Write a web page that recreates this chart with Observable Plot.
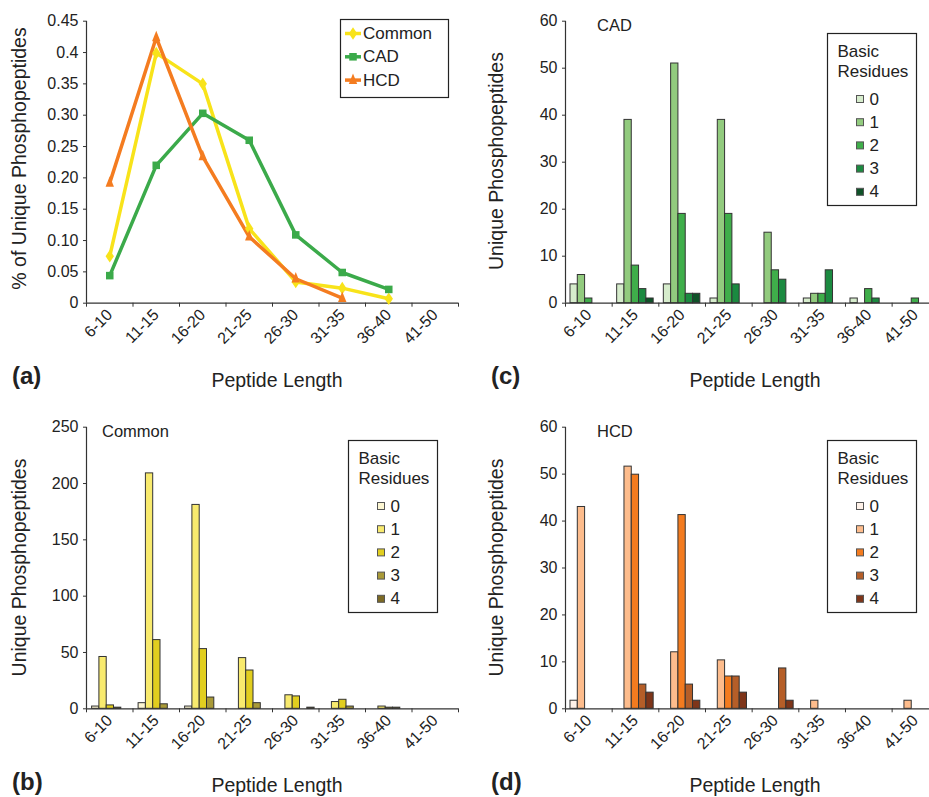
<!DOCTYPE html>
<html><head><meta charset="utf-8">
<script src="https://cdn.jsdelivr.net/npm/d3@7"></script>
<script src="https://cdn.jsdelivr.net/npm/@observablehq/plot@0.6"></script>
<style>
body{margin:0;background:#fff;overflow:hidden}
#fig{position:relative;width:929px;height:797px;overflow:hidden;background:#fff}
#fig svg{position:absolute}
</style></head><body><div id="fig"></div>
<script>
// ---------- data ----------
const cats = ["6-10","11-15","16-20","21-25","26-30","31-35","36-40","41-50"];
const residues = [0,1,2,3,4];
const seriesNames = ["Common","CAD","HCD"];

// (a) fraction of unique phosphopeptides per length bin
const commonPct = [0.075,0.399,0.350,0.119,0.034,0.024,0.007,null];
const cadPct    = [0.044,0.220,0.303,0.260,0.109,0.049,0.022,null];
const hcdPct    = [0.192,0.424,0.234,0.106,0.039,0.008,null,null];

const yTicksPct  = [0,0.05,0.1,0.15,0.2,0.25,0.3,0.35,0.4,0.45];
const yLabelsPct = ["0","0.05","0.10","0.15","0.20","0.25","0.30","0.35","0.4","0.45"];
const yTicksCommon = [0,50,100,150,200,250];
const yTicksCount  = [0,10,20,30,40,50,60];

// rows: length bins; columns: basic residues 0..4
const commonCounts = [
  [2,46,3,1,0],[5,209,61,4,0],[2,181,53,10,0],[0,45,34,5,0],
  [0,12,11,0,1],[0,6,8,2,0],[0,2,1,1,0],[0,0,0,0,0]];
const cadCounts = [
  [4,6,1,0,0],[4,39,8,3,1],[4,51,19,2,2],[1,39,19,4,0],
  [0,15,7,5,0],[1,2,2,7,0],[1,0,3,1,0],[0,0,1,0,0]];
const hcdCounts = [
  [1.72,43,0,0,0],[0,51.6,49.88,5.16,3.44],[0,12.04,41.28,5.16,1.72],[0,10.32,6.88,6.88,3.44],
  [0,0,0,8.6,1.72],[0,1.72,0,0,0],[0,0,0,0,0],[0,1.72,0,0,0]];

// ---------- style ----------
const seriesColors = ["#F8E31A","#3BAA4A","#F47C20"];
const commonShades = ["#FCF6D2","#F8EA6E","#E1CE1F","#A99A38","#7C6A24"];
const cadShades    = ["#D6ECCC","#92CB7E","#3FAE4A","#1B8A40","#0F5228"];
const hcdShades    = ["#FEF1E8","#FDBC8C","#F37B1F","#B55E28","#7E3519"];
const FONT = '"Liberation Sans", Arial, Helvetica, sans-serif';
const INK = "#222";

const fig = document.getElementById("fig");

// custom marker symbols
const diamondTall = {draw(ctx, size){ const s = Math.sqrt(size/Math.PI);
  ctx.moveTo(0,-1.5*s); ctx.lineTo(s,0); ctx.lineTo(0,1.5*s); ctx.lineTo(-s,0); ctx.closePath(); }};
const squareSym = {draw(ctx, size){ const s = Math.sqrt(size/Math.PI)*0.9;
  ctx.rect(-s,-s,2*s,2*s); }};
const triTall = {draw(ctx, size){ const s = Math.sqrt(size/Math.PI);
  ctx.moveTo(0,-1.6*s); ctx.lineTo(s,0.9*s); ctx.lineTo(-s,0.9*s); ctx.closePath(); }};
const seriesSymbols = [diamondTall, squareSym, triTall];

function axisMarks(bw, yDom, yTicks, yLabels) {
  const lab = new Map(yTicks.map((t,i)=>[t, yLabels ? yLabels[i] : String(t)]));
  return [
    Plot.axisY(yTicks, {tickSize:3, tickPadding:5, tickFormat:d=>lab.get(d), fontSize:16, label:null, stroke:"#333"}),
    Plot.axisX({tickSize:0, tickPadding:9, tickRotate:-45, fontSize:16, label:null}),
    Plot.axisX(cats, {tickSize:4, tickFormat:()=>"", dx:-bw/2, label:null, stroke:"#333"}),
    Plot.axisX([cats[cats.length-1]], {tickSize:4, tickFormat:()=>"", dx:bw/2, label:null, stroke:"#333"}),
    Plot.ruleY([0], {stroke:"#333", strokeWidth:1.2}),
    Plot.ruleX([cats[0]], {y1:yDom[0], y2:yDom[1], dx:-bw/2, stroke:"#333", strokeWidth:1.2})
  ];
}

function barMarks(counts, shades, bw, off, barW) {
  return residues.map(r => {
    const data = cats.map((c,i)=>({cat:c, v:counts[i][r]})).filter(d=>d.v>0);
    const il = off + r*barW;
    return Plot.barY(data, {x:"cat", y:"v", fill:shades[r], stroke:"#333", strokeWidth:1,
      insetLeft:il, insetRight:bw-il-barW});
  });
}

function makePlot(L, yDom, marksFn) {
  const bw = (L.w - L.ml - L.mr)/cats.length;
  const p = Plot.plot({
    width:L.w, height:L.h, marginLeft:L.ml, marginRight:L.mr, marginTop:L.mt, marginBottom:L.mb,
    style:{fontFamily:FONT, fontSize:"16px", color:INK, background:"transparent", overflow:"visible"},
    x:{type:"band", domain:cats, padding:0, round:false},
    y:{domain:yDom},
    marks: marksFn(bw)
  });
  p.style.left = L.x + "px"; p.style.top = L.y + "px";
  fig.appendChild(p);
}

// ---------- panel (a) ----------
const pctArrays = [commonPct, cadPct, hcdPct];
const lineData = [];
seriesNames.forEach((s,k) => pctArrays[k].forEach((v,i) => { if (v != null) lineData.push({series:s, k, cat:cats[i], v}); }));

makePlot({x:0,y:0,w:470,h:400,ml:86,mr:12,mt:20.7,mb:97.3}, [0,0.45], bw => [
  ...axisMarks(bw, [0,0.45], yTicksPct, yLabelsPct),
  ...seriesNames.map((s,k) => Plot.line(lineData.filter(d=>d.k===k), {x:"cat", y:"v", stroke:seriesColors[k], strokeWidth:3.5, strokeLinejoin:"miter"})),
  ...seriesNames.map((s,k) => Plot.dot(lineData.filter(d=>d.k===k), {x:"cat", y:"v", r:4.2, fill:seriesColors[k], stroke:"none", symbol:seriesSymbols[k]}))
]);

// ---------- panel (b) ----------
makePlot({x:0,y:400,w:470,h:397,ml:86,mr:12,mt:26.7,mb:88.7}, [0,250], bw => [
  ...barMarks(commonCounts, commonShades, bw, 5.6, 7.3),
  ...axisMarks(bw, [0,250], yTicksCommon)
]);

// ---------- panel (c) ----------
makePlot({x:470,y:0,w:480,h:400,ml:95,mr:11.7,mt:20.7,mb:97.3}, [0,60], bw => [
  ...barMarks(cadCounts, cadShades, bw, 5.0, 7.3),
  ...axisMarks(bw, [0,60], yTicksCount)
]);

// ---------- panel (d) ----------
makePlot({x:470,y:400,w:480,h:397,ml:95,mr:11.7,mt:26.7,mb:88.7}, [0,60], bw => [
  ...barMarks(hcdCounts, hcdShades, bw, 5.0, 7.3),
  ...axisMarks(bw, [0,60], yTicksCount)
]);

// ---------- overlay: titles, panel letters, legends ----------
const ov = d3.create("svg").attr("width",929).attr("height",797)
  .style("left","0px").style("top","0px").style("font-family",FONT).style("pointer-events","none");
function txt(x, y, s, size, opts={}) {
  const t = ov.append("text").attr("x",x).attr("y",y).attr("font-size",size).attr("fill",INK).text(s);
  if (opts.anchor) t.attr("text-anchor",opts.anchor);
  if (opts.bold) t.attr("font-weight","bold");
  if (opts.central) t.attr("dominant-baseline","central");
  if (opts.rotate) t.attr("transform",`rotate(-90,${x},${y})`);
  return t;
}
// panel letters and axis titles
const panels = [
  {letter:"(a)", lx:12,  ly:384, tx:277, ty:387, yt:"% of Unique Phosphopeptides", yx:26,  yy:158.5},
  {letter:"(b)", lx:12,  ly:790, tx:277, ty:792, yt:"Unique Phosphopeptides",      yx:26,  yy:567.5},
  {letter:"(c)", lx:491, ly:384, tx:755, ty:387, yt:"Unique Phosphopeptides",      yx:503, yy:161},
  {letter:"(d)", lx:491, ly:790, tx:755, ty:792, yt:"Unique Phosphopeptides",      yx:503, yy:567.5}
];
panels.forEach(p => {
  txt(p.lx, p.ly, p.letter, 24, {bold:true});
  txt(p.tx, p.ty, "Peptide Length", 19.5, {anchor:"middle"});
  txt(p.yx, p.yy, p.yt, 19.5, {anchor:"middle", rotate:true});
});
// in-panel labels
txt(102, 437, "Common", 16.5);
txt(597, 31, "CAD", 16.5);
txt(597, 437, "HCD", 16.5);

// legend (a)
ov.append("rect").attr("x",340.5).attr("y",19.5).attr("width",108).attr("height",78)
  .attr("fill","#fff").attr("stroke",INK).attr("stroke-width",1.2);
seriesNames.forEach((s,k) => {
  const cy = 33.5 + k*23.3;
  ov.append("line").attr("x1",345).attr("x2",361).attr("y1",cy).attr("y2",cy)
    .attr("stroke",seriesColors[k]).attr("stroke-width",3.5);
  ov.append("path").attr("d", d3.symbol(seriesSymbols[k], Math.PI*4.2*4.2)())
    .attr("transform",`translate(353,${cy})`).attr("fill",seriesColors[k]);
  txt(363, cy, s, 17, {central:true});
});

// residue legends (b), (c), (d)
function residueLegend(bx, by, shades) {
  ov.append("rect").attr("x",bx+0.5).attr("y",by+0.5).attr("width",89).attr("height",172)
    .attr("fill","#fff").attr("stroke",INK).attr("stroke-width",1.2);
  txt(bx+10.5, by+18.5, "Basic", 17, {central:true});
  txt(bx+10.5, by+38.8, "Residues", 17, {central:true});
  residues.forEach((r,i) => {
    const cy = by + 66 + i*23.2;
    ov.append("rect").attr("x",bx+29.5).attr("y",cy-3.5).attr("width",7).attr("height",7)
      .attr("fill",shades[r]).attr("stroke","#555").attr("stroke-width",1);
    txt(bx+42.5, cy, String(r), 17, {central:true});
  });
}
residueLegend(348, 440, commonShades);
residueLegend(827, 33, cadShades);
residueLegend(827, 440, hcdShades);

fig.appendChild(ov.node());
</script></body></html>
